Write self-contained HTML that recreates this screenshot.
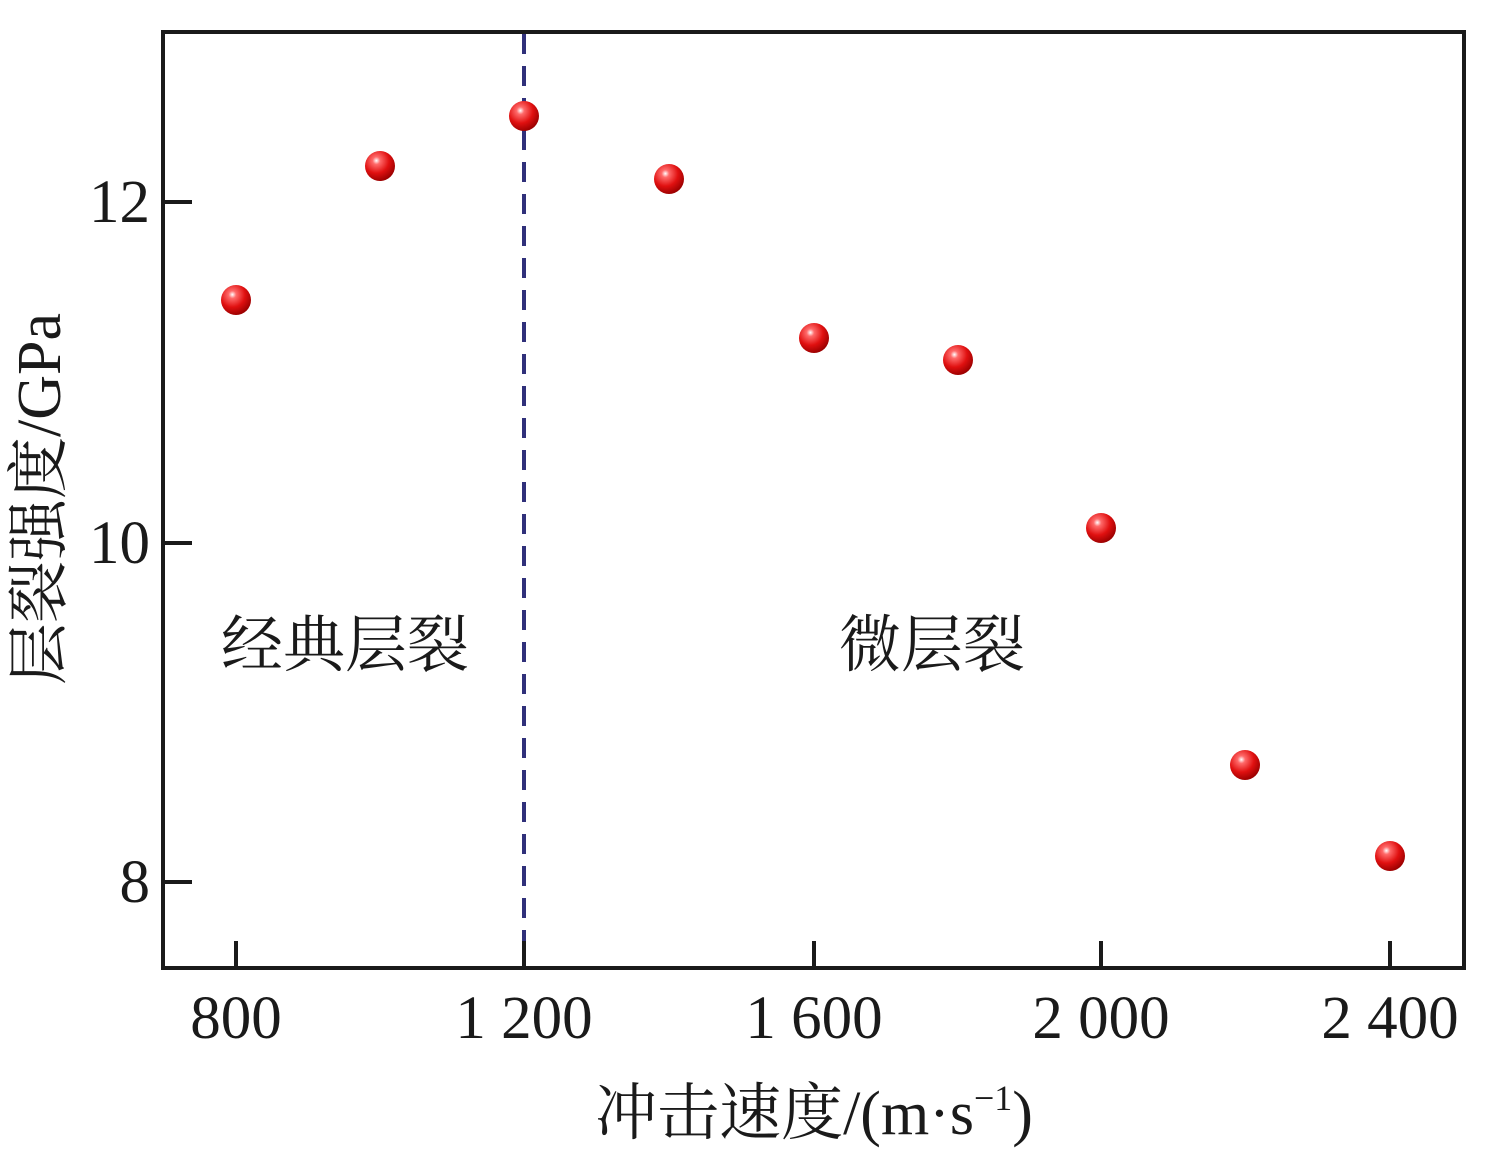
<!DOCTYPE html>
<html><head><meta charset="utf-8"><style>
html,body{margin:0;padding:0;background:#fff}
svg{display:block}
text{font-family:"Liberation Serif","Noto Serif CJK SC",serif;fill:#1a1a1a}
</style></head><body>
<svg width="1494" height="1175" viewBox="0 0 1494 1175" xmlns="http://www.w3.org/2000/svg">
<defs>
<radialGradient id="g" cx="0.38" cy="0.32" r="0.7">
<stop offset="0" stop-color="#ffffff"/>
<stop offset="0.18" stop-color="#ff6a6a"/>
<stop offset="0.6" stop-color="#e01010"/>
<stop offset="1" stop-color="#9a0000"/>
</radialGradient>
</defs>
<line x1="524" y1="34" x2="524" y2="966" stroke="#30307a" stroke-width="4" stroke-dasharray="20,12"/>
<rect x="163" y="32" width="1301" height="936" fill="none" stroke="#1a1a1a" stroke-width="4"/>
<g stroke="#1a1a1a" stroke-width="4">
<line x1="236" y1="968" x2="236" y2="941"/>
<line x1="524" y1="968" x2="524" y2="941"/>
<line x1="814" y1="968" x2="814" y2="941"/>
<line x1="1101" y1="968" x2="1101" y2="941"/>
<line x1="1390" y1="968" x2="1390" y2="941"/>
<line x1="163" y1="202" x2="192" y2="202"/>
<line x1="163" y1="543" x2="192" y2="543"/>
<line x1="163" y1="882" x2="192" y2="882"/>
</g>
<g font-size="61" text-anchor="middle">
<text x="236" y="1038">800</text>
<text x="524" y="1038">1 200</text>
<text x="814" y="1038">1 600</text>
<text x="1101" y="1038">2 000</text>
<text x="1390" y="1038">2 400</text>
</g>
<g font-size="61" text-anchor="end">
<text x="150" y="222">12</text>
<text x="150" y="563">10</text>
<text x="150" y="902">8</text>
</g>
<text x="814" y="1134" font-size="62" text-anchor="middle">冲击速度/(m·s<tspan font-size="36" dy="-24">−1</tspan><tspan dy="24">)</tspan></text>
<text transform="translate(60,499) rotate(-90)" font-size="62" text-anchor="middle">层裂强度/GPa</text>
<text x="345" y="666" font-size="62" text-anchor="middle">经典层裂</text>
<text x="932" y="666" font-size="62" text-anchor="middle">微层裂</text>
<g fill="url(#g)">
<circle cx="236" cy="300" r="15"/>
<circle cx="380" cy="166" r="15"/>
<circle cx="524" cy="116" r="15"/>
<circle cx="669" cy="179" r="15"/>
<circle cx="814" cy="338" r="15"/>
<circle cx="958" cy="360" r="15"/>
<circle cx="1101" cy="528" r="15"/>
<circle cx="1245" cy="765" r="15"/>
<circle cx="1390" cy="856" r="15"/>
</g>
</svg>
</body></html>
